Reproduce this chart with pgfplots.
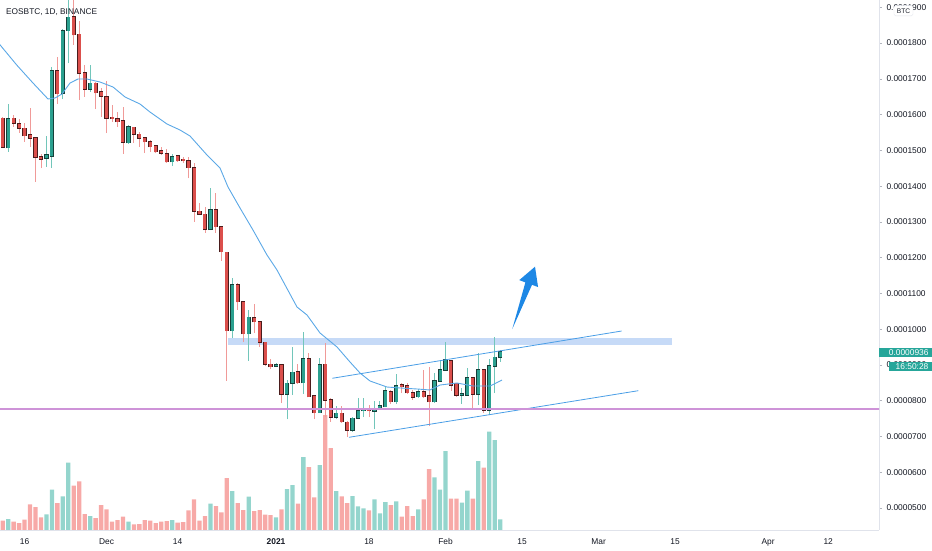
\documentclass[border=0pt]{standalone}
\usepackage{pgfplots}
\usepackage{pgfplotstable}
\pgfplotsset{compat=1.18}
\usepackage{fontspec}
\setmainfont{Liberation Sans}
\definecolor{tvtext}{HTML}{131722}
\definecolor{redbody}{HTML}{DB4F4C}
\definecolor{redborder}{HTML}{4A1C1C}
\definecolor{redwick}{HTML}{F09A98}
\definecolor{greenbody}{HTML}{2BA08F}
\definecolor{greenborder}{HTML}{17403A}
\definecolor{greenwick}{HTML}{72C6BA}
\definecolor{volred}{HTML}{F7A9A7}
\definecolor{volgreen}{HTML}{94D5CD}
\definecolor{maline}{HTML}{5BA8E6}
\definecolor{chanline}{HTML}{4A9EE6}
\definecolor{bandblue}{HTML}{C6DAF7}
\definecolor{purpleline}{HTML}{CE93D8}
\definecolor{arrowblue}{HTML}{1E88E5}
\definecolor{axisgray}{HTML}{E0E3EB}
\definecolor{tickgray}{HTML}{B2B5BE}
\definecolor{pricegreen}{HTML}{26A69A}
\newcommand\tvfont{\fontsize{8.4}{10}\selectfont}
\pgfplotsset{
  wick/.style={draw=none, mark=none, forget plot, error bars/.cd, y dir=plus, y explicit, error mark=none,
    error bar style={line width=0.9pt, draw=#1}},
  body/.style 2 args={draw=none, mark=none, forget plot, error bars/.cd, y dir=plus, y explicit, error mark=none,
    error bar style={line width=#2, draw=#1}}
}

% price in units of 1e-7 BTC; k = day index (k=50 is 1 Jan 2021)
\pgfplotstableread{
k o h l c
-1 1627 1641 1590 1593
0 1590 1593 1507 1509
2 1590 1599 1566 1576
3 1574 1587 1549 1562
4 1562 1576 1524 1541
5 1543 1618 1510 1534
6 1535 1537 1412 1481
7 1482 1490 1450 1476
10 1723 1762 1630 1658
13 1874 1930 1795 1823
14 1825 1863 1641 1715
15 1717 1739 1650 1671
17 1688 1692 1615 1661
18 1663 1674 1594 1652
19 1650 1694 1548 1590
20 1592 1627 1580 1589
21 1588 1608 1566 1580
22 1582 1622 1490 1523
24 1565 1566 1520 1545
25 1545 1552 1510 1534
26 1535 1538 1492 1524
27 1524 1529 1496 1510
28 1512 1515 1492 1496
29 1498 1510 1487 1492
30 1490 1503 1466 1468
32 1485 1487 1468 1471
33 1475 1482 1464 1471
34 1470 1482 1422 1452
35 1452 1464 1301 1330
36 1330 1352 1319 1322
37 1321 1343 1270 1279
39 1333 1382 1270 1287
40 1287 1287 1192 1217
41 1215 1215 856 996
43 1124 1128 1054 1077
44 1077 1077 965 987
46 1032 1070 989 1021
47 1021 1024 951 963
48 963 965 897 902
49 902 916 888 895
51 900 902 793 818
54 881 902 847 850
56 917 933 811 811
57 813 816 748 767
59 902 961 755 802
60 802 807 741 754
62 765 785 739 741
63 740 744 698 718
67 774 788 754 772
71 825 830 791 797
73 844 849 821 839
74 842 850 819 822
75 822 830 802 810
77 825 886 807 811
78 813 895 729 797
82 912 914 828 844
83 849 849 811 816
86 864 867 779 819
88 886 888 765 774
}\redc

\pgfplotstableread{
k o h l c
1 1507 1630 1496 1588
8 1478 1540 1454 1487
9 1484 1734 1450 1723
11 1660 1839 1643 1834
12 1835 1930 1743 1872
16 1671 1739 1664 1688
23 1521 1571 1518 1566
31 1468 1490 1456 1482
38 1279 1394 1277 1333
42 996 1142 975 1124
45 987 1054 912 1033
50 897 905 895 900
52 819 858 748 849
53 849 951 816 879
55 850 991 819 917
58 767 919 765 900
61 754 785 748 765
64 718 754 713 751
65 751 808 748 771
66 772 807 754 776
68 771 800 720 777
69 777 800 774 785
70 783 839 782 827
72 797 874 791 842
76 811 832 807 825
79 797 878 794 855
80 855 914 853 886
81 886 965 883 914
84 816 835 791 819
85 816 891 816 864
87 819 933 788 886
89 774 916 760 897
90 897 979 821 921
91 921 942 909 936
}\greenc

\pgfplotstableread{
k v
0 9.3
2 8.3
3 7
4 10.3
5 25.7
6 23
7 12.7
10 27
13 44.3
14 48.7
15 16
17 12
18 25
19 20.7
20 8.3
21 10
22 13.3
24 5.7
25 6
26 10
27 9.3
28 7
29 8.3
30 9
32 7.3
33 8
34 19.7
35 30.7
36 9.3
37 14
39 24
40 17.7
41 52
43 27
44 20
46 19
47 20
48 15.3
49 15
51 20.7
54 26.3
56 63
57 32.7
59 115
60 82
62 33.7
63 27
67 19.7
71 25
73 13.3
74 24
75 14
77 30.7
78 61
82 31.3
83 31.3
86 31.3
88 62.3
}\redv

\pgfplotstableread{
k v
1 11
8 15.7
9 40.3
11 33.7
12 67.3
16 14
23 8.3
31 10
38 26.3
42 39
45 33.3
50 12.7
52 41
53 45
55 73
58 65
61 39
64 34
65 23.7
66 21.7
68 30.7
69 16.7
70 28
72 28.7
76 20.7
79 52.7
80 40.3
81 79
84 27.3
85 39.3
87 69
89 98.3
90 90
91 10.7
}\greenv

\begin{document}
\begin{tikzpicture}
\useasboundingbox (0,0) rectangle (932pt,550pt);
% volume pane
\begin{axis}[
  at={(0,20pt)}, anchor=south west,
  scale only axis, width=879pt, height=530pt,
  xmin=-0.494, xmax=160.29, ymin=0, ymax=530,
  hide axis, ybar, bar width=4.3pt, bar shift=0pt]
\addplot[fill=volred, draw=none, bar shift=0pt] table[x=k, y=v] \redv;
\addplot[fill=volgreen, draw=none, bar shift=0pt] table[x=k, y=v] \greenv;
\end{axis}
% price pane
\begin{axis}[
  at={(0,20pt)}, anchor=south west,
  scale only axis, width=879pt, height=530pt,
  xmin=-0.494, xmax=160.29, ymin=438.5, ymax=1920.4,
  axis x line*=bottom, axis y line*=right,
  axis line style={draw=axisgray, line width=0.8pt, -},
  tick align=outside, major tick length=3pt,
  xtick={4,19,32,50,67,81,95,109,123,140,151},
  xticklabels={16,Dec,14,\bfseries 2021,18,Feb,15,Mar,15,Apr,12},
  xtick style={draw=none},
  ytick={500,600,...,1900},
  yticklabels={0.0000500,0.0000600,0.0000700,0.0000800,0.0000900,0.0001000,0.0001100,0.0001200,0.0001300,0.0001400,0.0001500,0.0001600,0.0001700,0.0001800,0.0001900},
  ytick style={draw=tickgray, line width=0.6pt},
  xticklabel style={font=\tvfont, text=tvtext, yshift=-2pt},
  yticklabel style={font=\tvfont, text=tvtext, xshift=1pt},
  clip=true]
% resistance band
\addplot[fill=bandblue, draw=none] coordinates {(41.2,955.8) (122.4,955.8) (122.4,974.5) (41.2,974.5)};
% red candles
\addplot[wick=redwick] table[x=k, y=l, y error plus expr=\thisrow{h}-\thisrow{l}] \redc;
\addplot[body={redborder}{4.2pt}] table[x=k, y expr=\thisrow{c}-1.7, y error plus expr=\thisrow{o}-\thisrow{c}+3.4] \redc;
\addplot[body={redbody}{3.0pt}] table[x=k, y=c, y error plus expr=\thisrow{o}-\thisrow{c}] \redc;
% green candles
\addplot[wick=greenwick] table[x=k, y=l, y error plus expr=\thisrow{h}-\thisrow{l}] \greenc;
\addplot[body={greenborder}{4.2pt}] table[x=k, y expr=\thisrow{o}-1.7, y error plus expr=\thisrow{c}-\thisrow{o}+3.4] \greenc;
\addplot[body={greenbody}{3.0pt}] table[x=k, y=o, y error plus expr=\thisrow{c}-\thisrow{o}] \greenc;
% moving average
\addplot[maline, line width=0.9pt, mark=none] coordinates {(-0.6,1797) (2.56,1738.7) (5.54,1688.3) (8.29,1643.6) (9.57,1646.4) (10.85,1657.6) (12.31,1688.3) (13.77,1699.5) (15.42,1699.5) (17.80,1691.1) (20.18,1677.1) (22.37,1649.2) (25.11,1629.6) (26.94,1607.2) (30.05,1573.7) (32.43,1556.9) (34.26,1540.1) (37.37,1487.0) (39.75,1450.7) (41.21,1397.5) (43.41,1338.8) (45.78,1277.3) (48.34,1207.4) (50.17,1165.5) (53.83,1062.0) (55.66,1039.7) (58.04,989.3) (61.15,950.2) (63.53,908.2) (65.36,877.5) (67.19,855.1) (70.29,838.3) (72.67,835.6) (75.78,832.8) (78.16,830.0) (79.99,843.9) (83.10,849.5) (86.03,841.1) (89.14,841.1) (91.33,857.9)};
% channel
\addplot[chanline, line width=0.8pt, mark=none] coordinates {(60.29,862.7) (113.22,994.9)};
\addplot[chanline, line width=0.8pt, mark=none] coordinates {(63.34,697.7) (116.26,828.0)};
% support line
\addplot[purpleline, line width=1.4pt, mark=none] coordinates {(-1,776.8) (161,776.8)};
% arrow
\addplot[fill=arrowblue, draw=none, mark=none] coordinates {(93.21,1000.5) (95.61,1130.8) (94.49,1137.2) (97.37,1174.7) (97.93,1117.7) (96.82,1124.1)};
\end{axis}
% header and price-scale labels
\node[anchor=west, inner sep=0pt, font=\fontsize{8.3}{10}\selectfont, text=tvtext] at (6pt,538.3pt) {EOSBTC, 1D, BINANCE};
\node[draw=axisgray, fill=white, rounded corners=1.5pt, inner sep=0pt, minimum width=19pt, minimum height=10.3pt, font=\fontsize{6.6}{8}\selectfont, text=tvtext] at (903.5pt,539.2pt) {BTC};
\node[fill=pricegreen, text=white, anchor=west, inner sep=0pt, minimum height=9.6pt, minimum width=53pt, font=\tvfont] at (879pt,197.7pt) {\hspace*{6pt}0.0000936\hfill};
\node[fill=pricegreen, text=white, anchor=west, inner sep=0pt, minimum height=9.3pt, minimum width=44pt, font=\tvfont] at (888.3pt,183.7pt) {\hspace*{3pt}16:50:28\hfill};
\end{tikzpicture}
\end{document}
